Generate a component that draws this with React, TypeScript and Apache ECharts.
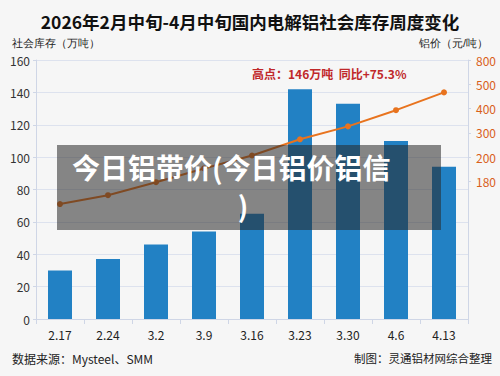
import React, { useEffect, useRef } from "react";
import * as echarts from "echarts";

const categories = ["2.17", "2.24", "3.2", "3.9", "3.16", "3.23", "3.30", "4.6", "4.13"];
const inventory = [30, 37, 46, 54, 65, 142, 133, 110, 94];
// price line plotted against right axis (same 0-160 scale as drawn in reference)
const priceLine = [71, 76.5, 84.5, 93, 101, 111, 119, 129, 140];
const rightTickValues = [160, 145, 130, 115, 100, 85];
const rightTickLabels = ["800", "500", "400", "300", "200", "180"];

const title = "2026年2月中旬-4月中旬国内电解铝社会库存周度变化";
const leftName = "社会库存（万吨）";
const rightName = "铝价（元/吨）";
const note = "高点：146万吨  同比+75.3%";
const sourceText = "数据来源：Mysteel、SMM";
const creditText = "制图：灵通铝材网综合整理";
const overlayLine1 = "今日铝带价(今日铝价铝信";
const overlayLine2 = ")";

const FONT = "'Noto Sans CJK SC', 'Noto Sans', sans-serif";

export default function App() {
  const ref = useRef<HTMLDivElement>(null);
  useEffect(() => {
    if (!ref.current) return;
    const chart = echarts.init(ref.current, undefined, { renderer: "svg" });
    chart.setOption({
      animation: false,
      backgroundColor: "#f6f6f6",
      textStyle: { fontFamily: FONT },
      title: {
        text: title,
        left: "center",
        top: 8,
        textStyle: { fontSize: 17.5, fontWeight: "bold", color: "#111", fontFamily: FONT },
      },
      grid: { left: 36, right: 32, top: 60, bottom: 57 },
      xAxis: {
        type: "category",
        data: categories,
        axisLine: { lineStyle: { color: "#cfd6e6" } },
        axisTick: { show: true, lineStyle: { color: "#cfd6e6" } },
        axisLabel: { color: "#222", fontSize: 12, margin: 9, fontFamily: FONT },
      },
      yAxis: [
        {
          type: "value",
          min: 0,
          max: 160,
          interval: 20,
          axisLine: { show: true, lineStyle: { color: "#cfd6e6" } },
          axisTick: { show: true, length: 3, lineStyle: { color: "#cfd6e6" } },
          axisLabel: { color: "#333", fontSize: 12, margin: 6, fontFamily: FONT },
          splitLine: { lineStyle: { color: "#dde2ee" } },
        },
        {
          type: "value",
          min: 0,
          max: 160,
          position: "right",
          axisLine: { show: true, lineStyle: { color: "#cfd6e6" } },
          axisTick: { show: true, length: 3, customValues: rightTickValues, lineStyle: { color: "#cfd6e6" } },
          axisLabel: {
            customValues: rightTickValues,
            color: "#d9601a",
            fontSize: 12,
            margin: 8,
            fontFamily: FONT,
            formatter: (v: number) => {
              const i = rightTickValues.indexOf(v);
              return i >= 0 ? rightTickLabels[i] : "";
            },
          },
          splitLine: { show: false },
        },
      ],
      series: [
        {
          type: "bar",
          data: inventory,
          barWidth: 24,
          itemStyle: { color: "#2281c4" },
          z: 2,
        },
        {
          type: "line",
          yAxisIndex: 1,
          data: priceLine,
          symbol: "circle",
          symbolSize: 6,
          lineStyle: { color: "#e8731e", width: 2 },
          itemStyle: { color: "#e8731e" },
          z: 3,
        },
      ],
      graphic: [
        {
          type: "text",
          left: 12,
          top: 37,
          style: { text: leftName, fontSize: 11, fill: "#222", font: `11px ${FONT}` },
        },
        {
          type: "text",
          right: 12,
          top: 37,
          style: { text: rightName, fontSize: 11, fill: "#222", font: `11px ${FONT}` },
        },
        {
          type: "text",
          left: 252,
          top: 67,
          style: { text: note, fill: "#c0282a", font: `bold 12px ${FONT}` },
        },
        {
          type: "text",
          left: 12,
          top: 352,
          style: { text: sourceText, fill: "#222", font: `12px ${FONT}` },
        },
        {
          type: "text",
          right: 8,
          top: 352,
          style: { text: creditText, fill: "#222", font: `11.5px ${FONT}` },
        },
        {
          type: "rect",
          shape: { x: 57, y: 145, width: 384, height: 85 },
          style: { fill: "rgba(40,40,40,0.55)" },
          z: 100,
        },
        {
          type: "text",
          x: 72,
          y: 167,
          z: 101,
          style: {
            text: overlayLine1,
            fill: "#ffffff",
            font: `bold 28px ${FONT}`,
            verticalAlign: "middle",
            align: "left",
          },
        },
        {
          type: "text",
          x: 243,
          y: 205,
          z: 101,
          style: {
            text: overlayLine2,
            fill: "#ffffff",
            font: `bold 28px ${FONT}`,
            verticalAlign: "middle",
            align: "center",
          },
        },
      ],
    });
    return () => chart.dispose();
  }, []);
  return (
    <div
      ref={ref}
      style={{ position: "fixed", left: 0, top: 0, width: 500, height: 376 }}
    />
  );
}
